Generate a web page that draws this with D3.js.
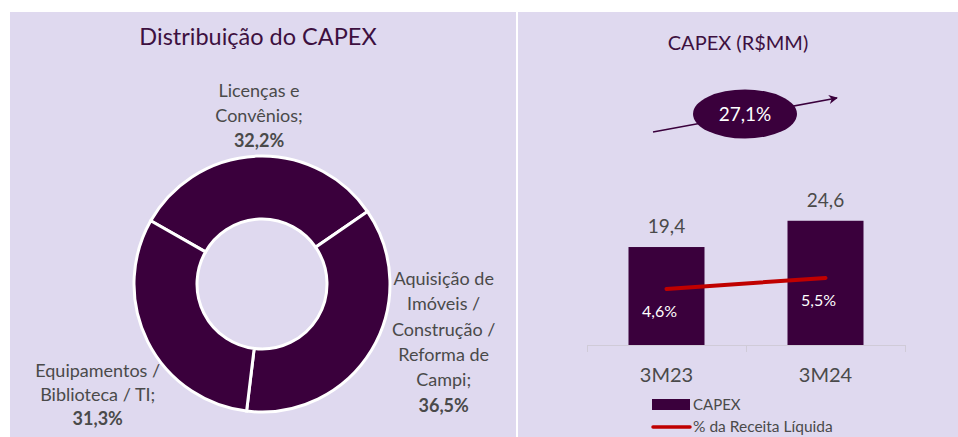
<!DOCTYPE html>
<html><head><meta charset="utf-8">
<script src="https://cdn.jsdelivr.net/npm/d3@7/dist/d3.min.js"></script>
<style>
html,body{margin:0;padding:0;background:#fff;}
svg{display:block;font-family:Lato,"Open Sans",sans-serif;}
</style></head>
<body>
<svg id="chart" width="958" height="437"></svg>
<script>
// ---- Data ----
const donutCategories = ["Licenças e Convênios", "Aquisição de Imóveis / Construção / Reforma de Campi", "Equipamentos / Biblioteca / TI"];
const donutValues = [32.2, 36.5, 31.3];
const donutLabelLines = [["Licenças e", "Convênios;"], ["Aquisição de", "Imóveis /", "Construção /", "Reforma de", "Campi;"], ["Equipamentos /", "Biblioteca / TI;"]];
const donutPctLabels = ["32,2%", "36,5%", "31,3%"];

const barCategories = ["3M23", "3M24"];
const capexValues = [19.4, 24.6];
const capexLabels = ["19,4", "24,6"];
const pctReceita = [4.6, 5.5];
const pctLabels = ["4,6%", "5,5%"];
const growthLabel = "27,1%";

// ---- Style ----
const BG = "#dfd9ef", PURPLE = "#3a003c", TITLE = "#3d1040", GRAY = "#4a4a4a", RED = "#c00000";

const svg = d3.select("#chart");
svg.append("rect").attr("x", 10).attr("y", 12).attr("width", 506).attr("height", 425).attr("fill", BG);
svg.append("rect").attr("x", 518).attr("y", 12).attr("width", 440).attr("height", 425).attr("fill", BG);

// ---- Left: donut ----
svg.append("text").attr("x", 258).attr("y", 45).attr("text-anchor", "middle")
  .attr("font-size", 23.5).attr("fill", TITLE).text("Distribuição do CAPEX");

const cx = 262, cy = 284;
const pie = d3.pie().sort(null).value(d => d)
  .startAngle(-60.4 * Math.PI / 180).endAngle((360 - 60.4) * Math.PI / 180);
const arcs = pie(donutValues);
const arc = d3.arc().innerRadius(65).outerRadius(128);
const g = svg.append("g").attr("transform", `translate(${cx},${cy})`);
g.selectAll("path").data(arcs).join("path")
  .attr("d", arc).attr("fill", PURPLE).attr("stroke", "#fff").attr("stroke-width", 3);

// label placement: centroid on an outer radius, then nudges
const labelArc = d3.arc().innerRadius(175).outerRadius(175);
const nudges = [[4.5, 7], [32, -33], [-8, 33]];
const lineH = [25, 25.4, 24];
arcs.forEach((a, i) => {
  const [px, py] = labelArc.centroid(a);
  const lines = donutLabelLines[i];
  const n = lines.length + 1;
  const lh = lineH[i];
  const x0 = cx + px + nudges[i][0];
  const yc = cy + py + nudges[i][1];
  const yTop = yc - (n - 1) * 25.2 / 2 + 6;
  const t = svg.append("text").attr("text-anchor", "middle").attr("font-size", 18).attr("fill", GRAY);
  lines.forEach((l, j) => t.append("tspan").attr("x", x0).attr("y", yTop + j * lh).text(l));
  t.append("tspan").attr("x", x0).attr("y", yTop + lines.length * lh).attr("font-weight", "bold").text(donutPctLabels[i]);
});

// ---- Right: bars ----
svg.append("text").attr("x", 738).attr("y", 50).attr("text-anchor", "middle")
  .attr("font-size", 20).attr("fill", TITLE).text("CAPEX (R$MM)");

// growth arrow + ellipse
const defs = svg.append("defs");
defs.append("marker").attr("id", "ah").attr("viewBox", "0 0 10 10").attr("refX", 9).attr("refY", 5)
  .attr("markerWidth", 9).attr("markerHeight", 9).attr("orient", "auto").attr("markerUnits", "userSpaceOnUse")
  .append("path").attr("d", "M0,0 L10,5 L0,10 L3,5 Z").attr("fill", PURPLE);
svg.append("line").attr("x1", 653).attr("y1", 132).attr("x2", 837).attr("y2", 98)
  .attr("stroke", PURPLE).attr("stroke-width", 1.6).attr("marker-end", "url(#ah)");
svg.append("ellipse").attr("cx", 745).attr("cy", 114).attr("rx", 52).attr("ry", 24.5).attr("fill", PURPLE);
svg.append("text").attr("x", 745).attr("y", 121).attr("text-anchor", "middle")
  .attr("font-size", 19).attr("fill", "#fff").text(growthLabel);

const x = d3.scaleBand().domain(barCategories).range([587, 905]).paddingInner(0.522).paddingOuter(0.261);
const y = d3.scaleLinear().domain([0, 30]).range([345, 345 - 151.5]);
const y2 = d3.scaleLinear().domain([0, 10]).range([345, 345 - 122]);

// axis
const ax = svg.append("g");
ax.append("line").attr("x1", 587).attr("x2", 905).attr("y1", 345.5).attr("y2", 345.5).attr("stroke", "#d0cbd8").attr("stroke-width", 1);
const bounds = [x.range()[0], x.range()[0] + x.step(), x.range()[0] + 2 * x.step()];
ax.selectAll("line.tk").data(bounds).join("line").attr("class", "tk")
  .attr("x1", d => d + 0.5).attr("x2", d => d + 0.5).attr("y1", 345).attr("y2", 352)
  .attr("stroke", "#d0cbd8");

svg.selectAll("rect.bar").data(capexValues).join("rect").attr("class", "bar")
  .attr("x", (d, i) => x(barCategories[i])).attr("width", x.bandwidth())
  .attr("y", d => y(d)).attr("height", d => y(0) - y(d)).attr("fill", PURPLE);

svg.selectAll("text.bv").data(capexLabels).join("text").attr("class", "bv")
  .attr("x", (d, i) => x(barCategories[i]) + x.bandwidth() / 2)
  .attr("y", (d, i) => y(capexValues[i]) - 14).attr("text-anchor", "middle")
  .attr("font-size", 19).attr("fill", GRAY).text(d => d);

svg.selectAll("text.cat").data(barCategories).join("text").attr("class", "cat")
  .attr("x", d => x(d) + x.bandwidth() / 2).attr("y", 382).attr("text-anchor", "middle")
  .attr("font-size", 20).attr("fill", GRAY).text(d => d);

// line
const line = d3.line().x((d, i) => x(barCategories[i]) + x.bandwidth() / 2).y(d => y2(d));
svg.append("path").datum(pctReceita).attr("d", line).attr("fill", "none")
  .attr("stroke", RED).attr("stroke-width", 4).attr("stroke-linecap", "round");
svg.selectAll("text.pl").data(pctLabels).join("text").attr("class", "pl")
  .attr("x", (d, i) => x(barCategories[i]) + x.bandwidth() / 2 - 7)
  .attr("y", (d, i) => y2(pctReceita[i]) + 28).attr("text-anchor", "middle")
  .attr("font-size", 16).attr("fill", "#fff").text(d => d);

// legend
svg.append("rect").attr("x", 652).attr("y", 399).attr("width", 38).attr("height", 11).attr("fill", PURPLE);
svg.append("text").attr("x", 693).attr("y", 410).attr("font-size", 15).attr("fill", GRAY).text("CAPEX");
svg.append("line").attr("x1", 653).attr("x2", 690).attr("y1", 427).attr("y2", 427)
  .attr("stroke", RED).attr("stroke-width", 3.5).attr("stroke-linecap", "round");
svg.append("text").attr("x", 693).attr("y", 432).attr("font-size", 15.5).attr("fill", GRAY).text("% da Receita Líquida");
</script>
</body></html>
